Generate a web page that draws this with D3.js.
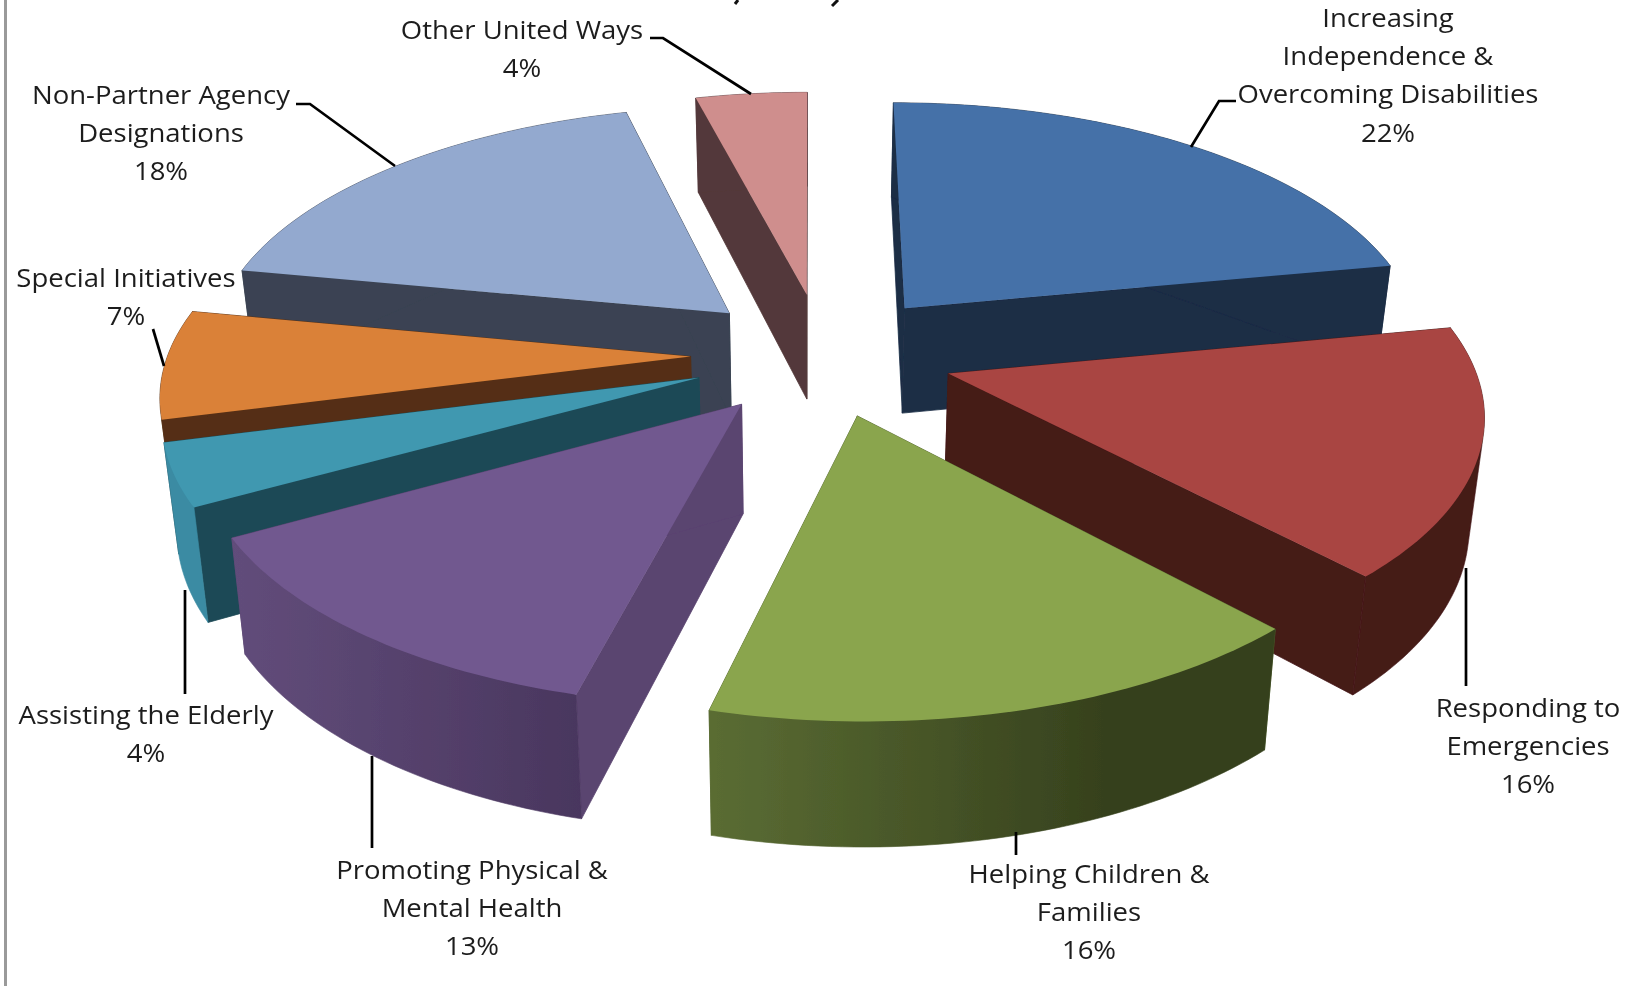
<!DOCTYPE html>
<html>
<head>
<meta charset="utf-8">
<style>
html, body { margin: 0; background: #fff; }
svg { display: block; }
text { font-family: "Open Sans", Lato, sans-serif; font-size: 25px; fill: #1c1c1c; text-anchor: middle; }
</style>
</head>
<body>
<div id="chart"></div>
<script src="https://cdn.jsdelivr.net/npm/d3@7"></script>
<script>
const categories = ["Increasing Independence & Overcoming Disabilities", "Responding to Emergencies",
    "Helping Children & Families", "Promoting Physical & Mental Health", "Assisting the Elderly",
    "Special Initiatives", "Non-Partner Agency Designations", "Other United Ways"];
const shares = [22, 16, 16, 13, 4, 7, 18, 4];

const topColors = ["#4571a8", "#a94542", "#8aa54e", "#71588f", "#4098b0", "#da8139", "#93a9cf", "#cf8e8d"];
const wallColors = ["#1b2d45", "#451a18", "#56682f", "#5a4470", "#1d4a57", "#552f14", "#3a4352", "#53383a"];
const rimColors = ["#1b2d45", "#451a18", "url(#rim-green)", "url(#rim-purple)", "#3a8ba3", "#552f14", "#3a4352", "#53383a"];

// how far each slice is pulled out of the pie
const explosions = [0.2514, 0.2484, 0.2498, 0.2494, 0.2531, 0.2539, 0.2515, 0.2536];

// label lines, centre x and first baseline, leader polyline
const labelLines = [
    ["Increasing", "Independence &", "Overcoming Disabilities", "22%"],
    ["Responding to", "Emergencies", "16%"],
    ["Helping Children &", "Families", "16%"],
    ["Promoting Physical &", "Mental Health", "13%"],
    ["Assisting the Elderly", "4%"],
    ["Special Initiatives", "7%"],
    ["Non-Partner Agency", "Designations", "18%"],
    ["Other United Ways", "4%"]
];
const labelAnchors = [[1388, 27], [1528, 717], [1089, 883], [472, 879], [146, 724], [126, 287], [161, 104], [522, 39]];
const leaders = [
    [[1236, 101], [1219, 101], [1191, 147]],
    [[1466, 568], [1466, 686]],
    [[1016, 832], [1016, 855]],
    [[372, 756], [372, 848]],
    [[185, 590], [185, 694]],
    [[153, 329], [164, 366]],
    [[296, 104], [310, 104], [395, 166]],
    [[650, 38], [663, 38], [751, 94]]
];

const width = 1631;
const height = 986;

// camera fitted to the picture: perspective on the pie plane
const cx = 823.3, cy = 354.5, rx = 522.6, ry = 245.3, skew = -1.83, persp = 0.1367;
const vanishX = 807;
const depthX = d3.scaleLinear().domain([vanishX, vanishX + 100]).range([vanishX, vanishX + 97.7]);
const depthY = d3.scaleLinear().domain([0, 100]).range([89.5, 194.5]);
const stretchX = 1.1;

function project(u, v, bottom) {
    const w = 1 + persp * v;
    const x = cx + (rx * u + skew * v) / w;
    const y = cy - ry * v / w;
    return bottom ? [depthX(x), depthY(y)] : [x, y];
}

const pie = d3.pie().sort(null).startAngle(0).endAngle(2 * Math.PI);
const arcs = pie(shares);

const svg = d3.select("#chart").append("svg")
    .attr("width", width)
    .attr("height", height);

const defs = svg.append("defs");
const blur = defs.append("filter").attr("id", "soft");
blur.append("feGaussianBlur").attr("stdDeviation", 0.6);

function rimGradient(id, x1, x2, stops) {
    const g = defs.append("linearGradient")
        .attr("id", id)
        .attr("gradientUnits", "userSpaceOnUse")
        .attr("x1", x1).attr("x2", x2)
        .attr("y1", 0).attr("y2", 0);
    stops.forEach(s => g.append("stop").attr("offset", s[0]).attr("stop-color", s[1]));
}
rimGradient("rim-green", 715, 1270, [[0, "#5a6c33"], [0.7, "#36411d"], [1, "#36411d"]]);
rimGradient("rim-purple", 229, 585, [[0, "#624d7b"], [1, "#49365e"]]);

const line = d3.line();

function pointAt(d, angle, bottom) {
    const mid = (d.startAngle + d.endAngle) / 2;
    const e = explosions[d.index];
    const u = e * Math.sin(mid) + (angle === null ? 0 : Math.sin(angle));
    const v = e * Math.cos(mid) + (angle === null ? 0 : Math.cos(angle));
    return project(u, v, bottom);
}

function arcAngles(d) {
    const n = Math.ceil((d.endAngle - d.startAngle) / 0.02);
    return d3.range(n + 1).map(i => d.startAngle + (d.endAngle - d.startAngle) * i / n);
}

function wallPath(d, angle) {
    return line([pointAt(d, null, false), pointAt(d, angle, false), pointAt(d, angle, true), pointAt(d, null, true)]) + "Z";
}

// outer rim is the outline of both arcs together, the top face covers the rest of it
function rimPath(d) {
    const a = arcAngles(d);
    return line(d3.polygonHull(a.map(t => pointAt(d, t, false)).concat(a.map(t => pointAt(d, t, true))))) + "Z";
}

function topPath(d) {
    return line([pointAt(d, null, false)].concat(arcAngles(d).map(t => pointAt(d, t, false)))) + "Z";
}

// painter's order, back of the pie first
const drawOrder = [7, 0, 6, 1, 5, 4, 3, 2];

const plot = svg.append("g").attr("filter", "url(#soft)");

const slices = plot.selectAll("g.slice")
    .data(drawOrder.map(i => arcs[i]))
    .enter().append("g")
    .attr("class", "slice");

[d => d.startAngle, d => d.endAngle].forEach(side => {
    slices.append("path")
        .attr("d", d => wallPath(d, side(d)))
        .attr("fill", d => wallColors[d.index])
        .attr("stroke", d => wallColors[d.index])
        .attr("stroke-width", 0.8);
});
slices.append("path").attr("d", rimPath)
    .attr("fill", d => rimColors[d.index])
    .attr("stroke", d => rimColors[d.index])
    .attr("stroke-width", 0.6);
slices.append("path").attr("d", topPath).attr("fill", d => topColors[d.index]);

plot.selectAll("path.leader")
    .data(leaders)
    .enter().append("path")
    .attr("class", "leader")
    .attr("d", d => line(d))
    .attr("fill", "none")
    .attr("stroke", "#000")
    .attr("stroke-width", 2.7);

const labels = svg.append("g").attr("filter", "url(#soft)").selectAll("text")
    .data(categories)
    .enter().append("text")
    .attr("aria-label", d => d)
    .attr("transform", (d, i) => `translate(${labelAnchors[i][0]},${labelAnchors[i][1]}) scale(${stretchX},1)`);

labels.selectAll("tspan")
    .data((d, i) => labelLines[i])
    .enter().append("tspan")
    .attr("x", 0)
    .attr("dy", (d, i) => i === 0 ? 0 : 38.2)
    .text(d => d);

// frame of the original chart area and the bottom of the cropped title
svg.append("line")
    .attr("x1", 5.5).attr("x2", 5.5)
    .attr("y1", 0).attr("y2", height)
    .attr("stroke", "#9a9a9a")
    .attr("stroke-width", 3);

svg.append("g").selectAll("path")
    .data([[[738, 0], [735, 4]], [[838, 0], [832, 6]]])
    .enter().append("path")
    .attr("d", d => line(d))
    .attr("stroke", "#111")
    .attr("stroke-width", 3);
</script>
</body>
</html>
